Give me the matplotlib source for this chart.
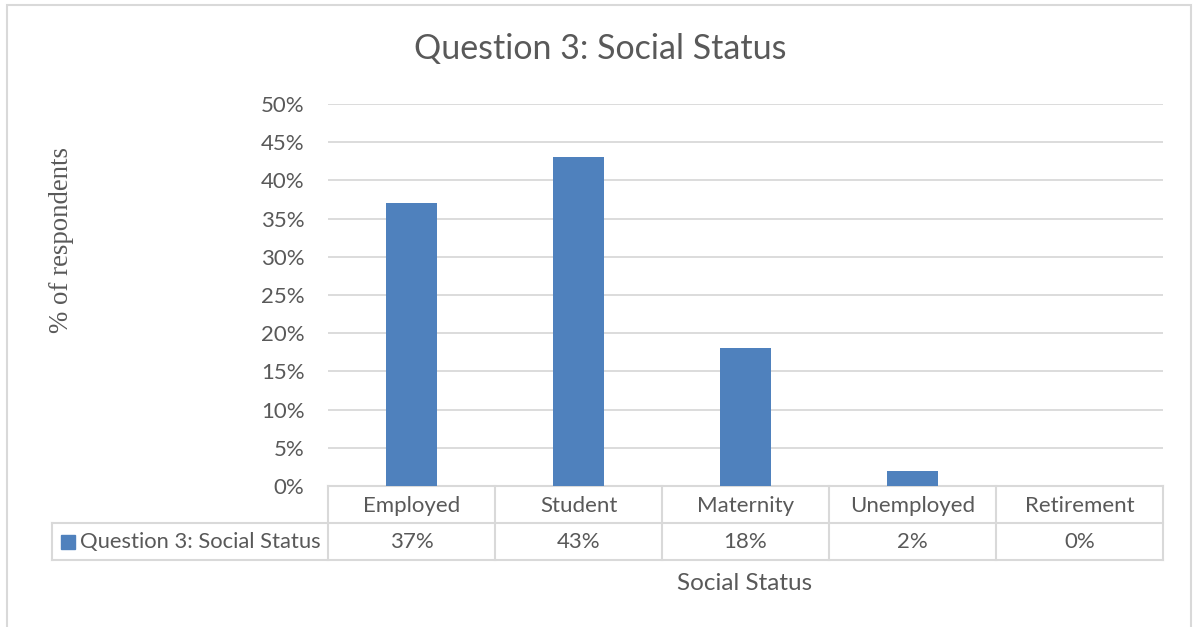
import numpy as np
import matplotlib.pyplot as plt
from matplotlib.patches import Rectangle
from matplotlib.lines import Line2D

categories = ['Employed', 'Student', 'Maternity', 'Unemployed', 'Retirement']
values = [37, 43, 18, 2, 0]
series_name = 'Question 3: Social Status'
yticks = [0, 5, 10, 15, 20, 25, 30, 35, 40, 45, 50]

bar_color = '#4f81bd'
grid_color = '#d9d9d9'
text_color = '#595959'
font = 'Lato'

W, H = 1194, 627
fig = plt.figure(figsize=(W / 100, H / 100), dpi=100)

# axes placed in pixel coordinates of the reference
x0, x1, y_top, y_bot = 328, 1163, 104, 486
ax = fig.add_axes([x0 / W, 1 - y_bot / H, (x1 - x0) / W, (y_bot - y_top) / H])

x = np.arange(len(categories))
ax.bar(x, values, width=0.31, color=bar_color, zorder=3)
ax.set_xlim(-0.5, len(categories) - 0.5)
ax.set_ylim(0, 50)
ax.set_yticks(yticks)
ax.set_yticklabels([f'{t}%' for t in yticks], fontsize=16, color=text_color, family=font)
ax.tick_params(axis='y', length=0, pad=17)
ax.set_xticks([])
ax.grid(axis='y', color=grid_color, linewidth=1.3, zorder=0)
for s in ax.spines.values():
    s.set_visible(False)

# data table below the axes
px = 1 / (y_bot - y_top)
row_h = 37 * px
legend_left = (52 - x0) / (x1 - x0)
tr = ax.transAxes
lc = dict(color=grid_color, linewidth=1.5, transform=tr, clip_on=False)
n = len(categories)
for k in range(n + 1):
    ax.add_line(Line2D([k / n, k / n], [0, -2 * row_h], **lc))
ax.add_line(Line2D([legend_left, legend_left], [-row_h, -2 * row_h], **lc))
ax.add_line(Line2D([0, 1], [0, 0], **lc))
ax.add_line(Line2D([legend_left, 1], [-row_h, -row_h], **lc))
ax.add_line(Line2D([legend_left, 1], [-2 * row_h, -2 * row_h], **lc))

for k, (c, v) in enumerate(zip(categories, values)):
    ax.text((k + 0.5) / n, -0.5 * row_h - 2 * px, c, transform=tr, ha='center', va='center',
            fontsize=16, color=text_color, family=font)
    ax.text((k + 0.5) / n, -1.5 * row_h - 1 * px, f'{v}%', transform=tr, ha='center',
            va='center', fontsize=16, color=text_color, family=font)

# legend key inside the table
fig.patches.append(Rectangle((61 / W, 1 - 549 / H), 14 / W, 14 / H, color=bar_color,
                             transform=fig.transFigure))
fig.text(80 / W, 1 - 542 / H, series_name, ha='left', va='center', fontsize=15.8,
         color=text_color, family=font)

fig.suptitle(series_name, x=600 / W, y=1 - 49 / H, va='center', fontsize=24.5,
             color=text_color, family=font)
fig.text(745 / W, 1 - 583 / H, 'Social Status', ha='center', va='center',
         fontsize=17.5, color=text_color, family=font)
fig.text(62 / W, 1 - 240 / H, '% of respondents', rotation=90, ha='center', va='center',
         fontsize=19.3, color=text_color, family='Liberation Serif')

# outer chart border
fig.patches.append(Rectangle((7 / W, -0.01), 1184 / W, 1 - 5 / H + 0.01, fill=False,
                             edgecolor=grid_color, linewidth=1.5, transform=fig.transFigure))

fig.savefig('out.png', dpi=100)
